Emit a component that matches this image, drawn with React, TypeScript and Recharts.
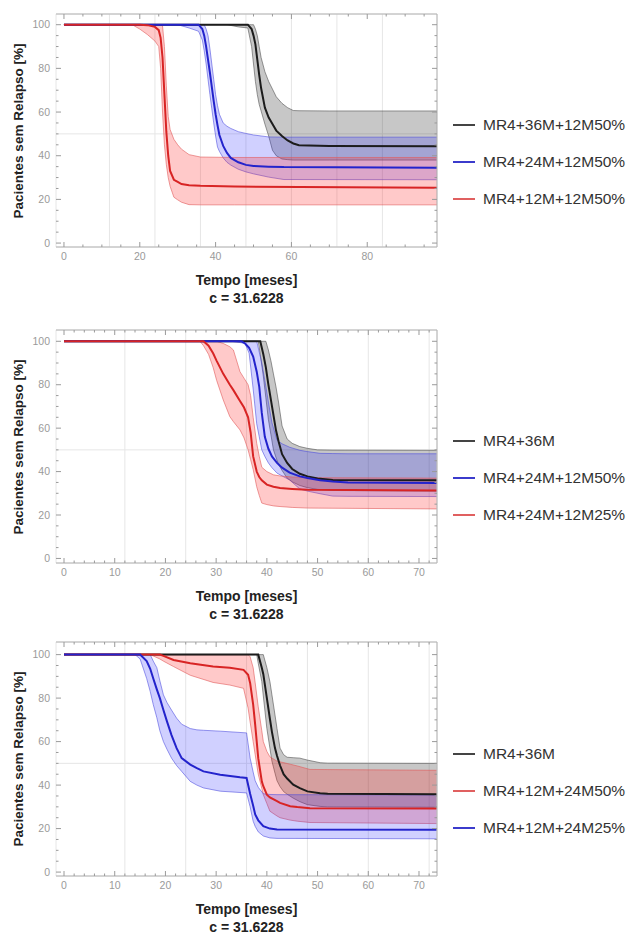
import { ComposedChart, Area, Line, XAxis, YAxis, CartesianGrid } from 'recharts'

const FONT = '"Liberation Sans", Arial, Helvetica, sans-serif'

// ---- panel 1 (tempo 0..98) ----
const p1RedT = [0, 18, 20, 22, 24, 25, 25.5, 26, 26.5, 27, 27.5, 28, 29, 30, 31, 33, 36, 45, 98.5]
const p1RedMid = [100, 100, 100, 99.8, 99, 97.5, 94, 85, 68, 51, 40, 33, 29, 28, 27, 26.5, 26.2, 25.9, 25.3]
const p1RedHi = [100, 100, 100, 100, 100, 100, 100, 99.5, 90, 72, 58, 52, 47.5, 45, 43, 40.5, 39.4, 39.2, 39.2]
const p1RedLo = [100, 100, 98, 95.5, 92.5, 90, 80, 60, 45, 36, 30, 26, 21, 19.8, 18.7, 17.6, 17.5, 17.5, 17.5]

const p1BlueT = [0, 30, 33, 35.5, 36.5, 37, 37.5, 38, 38.5, 39, 39.5, 40, 40.5, 41, 42, 43, 44, 46, 48, 50, 54, 58, 98.5]
const p1BlueMid = [100, 100, 100, 100, 98, 95, 90, 84, 78, 71.5, 65, 59, 54, 49.5, 44.5, 41.3, 39, 37, 35.8, 35.3, 35, 34.8, 34.5]
const p1BlueHi = [100, 100, 100, 100, 100, 100, 98, 95, 89, 82, 75, 68, 63, 59, 55, 53.5, 52.5, 51, 50.2, 49.5, 48.6, 48.5, 48.5]
const p1BlueLo = [100, 100, 98.5, 97, 93, 88, 82, 75, 68, 61.5, 55, 49, 44, 42, 39, 37, 35.7, 33.8, 32.6, 31.7, 30.2, 29.1, 29]

const p1BlackT = [0, 43, 46, 48.5, 49.5, 50, 50.5, 51, 51.5, 52, 53, 54, 55, 56, 57.5, 59, 60.5, 62, 70, 98.5]
const p1BlackMid = [100, 100, 100, 100, 98, 95, 91, 84, 77, 71, 62, 57.5, 54.5, 51.5, 49, 47, 45.6, 44.8, 44.5, 44.3]
const p1BlackHi = [100, 100, 100, 100, 100, 100, 98, 95, 90, 85, 78.5, 74, 70.5, 67, 64, 62, 60.7, 60.6, 60.5, 60.5]
const p1BlackLo = [100, 100, 99, 98.5, 90, 82, 74, 68, 63.5, 60.5, 54.5, 49, 42.5, 40, 38.5, 38.2, 38, 38, 38, 38]

// ---- panel 2 (tempo 0..73) ----
const p2BlackT = [0, 38.3, 38.7, 39.3, 39.8, 40.3, 40.8, 41.3, 41.8, 42.3, 43, 44, 45, 46.5, 48, 50, 53, 73.5]
const p2BlackMid = [100, 100, 100, 94, 88, 80, 73, 66, 59, 54, 48, 44, 41.2, 39, 37.8, 36.8, 36.1, 36]
const p2BlackHi = [100, 100, 100, 100, 100, 96, 91, 85, 79, 72, 61, 55, 53, 51.5, 50.7, 50, 49.9, 49.8]
const p2BlackLo = [100, 100, 94, 84, 74, 64, 57, 50, 46.5, 43.3, 40.5, 37, 35.3, 33.6, 32.6, 31.8, 31.3, 31]

const p2BlueT = [0, 33, 35, 35.7, 36.5, 37.3, 38, 38.5, 39, 39.6, 40.3, 41, 42, 43, 44.5, 46.5, 48, 50.5, 53, 56, 73.5]
const p2BlueMid = [100, 100, 100, 99, 97, 93, 86, 79, 67, 56, 50.5, 47, 44, 41.8, 39.5, 37.8, 37, 36, 35.4, 35, 34.7]
const p2BlueHi = [100, 100, 100, 100, 100, 100, 100, 95, 90, 82, 72, 62.5, 54.5, 52.8, 51.2, 49.8, 49.2, 48.4, 48.3, 48.2, 48.2]
const p2BlueLo = [100, 100, 99.3, 99, 94.5, 78, 62, 56, 50, 47, 44, 41.8, 39.3, 38, 36.1, 32, 31, 29.8, 28.7, 28.6, 28.5]

const p2RedT = [0, 26.8, 27.5, 28.5, 29.4, 30.1, 31.4, 32.7, 33.4, 34.7, 35.5, 36.3, 36.8, 37.3, 38, 38.5, 39, 40, 41.3, 42.6, 45, 48, 73.5]
const p2RedMid = [100, 100, 100, 98, 94.5, 91, 85, 80, 77.5, 72.5, 69.5, 65, 58, 47, 40, 37.5, 36, 34, 33, 32.4, 32, 31.6, 31.3]
const p2RedHi = [100, 100, 100, 100, 100, 100, 99, 97.5, 96, 86, 83, 80, 75, 65, 53, 47, 42, 40, 38.5, 38, 37.5, 37.2, 37]
const p2RedLo = [100, 100, 98, 94, 88, 82, 73, 65.3, 63, 59.2, 55.5, 50, 45.5, 41, 33, 29, 25.5, 24.8, 24.2, 23.9, 23.5, 23.2, 22.8]

// ---- panel 3 (tempo 0..73) ----
const p3BlackT = [0, 38, 38.3, 39, 39.3, 40, 40.6, 41, 41.6, 42, 42.6, 43.3, 44, 45.2, 46.5, 48, 50.5, 52, 73.5]
const p3BlackMid = [100, 100, 100, 94, 91, 80, 70.5, 64.5, 57, 53.5, 49, 45, 43, 40.2, 38.6, 37.1, 36.2, 36, 35.8]
const p3BlackHi = [100, 100, 100, 100, 100, 94, 87.6, 81.5, 72.3, 66, 57, 54, 52.8, 52.6, 52.4, 51.5, 50.3, 50.1, 50]
const p3BlackLo = [100, 100, 96, 87.6, 81, 66, 57, 51, 45.5, 42, 39.3, 37, 35.8, 34, 32.4, 31, 30.2, 30, 29.8]

const p3RedT = [0, 17, 18.9, 19.6, 21.6, 24.9, 29.4, 32.7, 35.4, 36.3, 36.7, 37.3, 37.7, 38.3, 39, 39.3, 40, 40.6, 42, 42.6, 44.6, 46, 48.5, 73.5]
const p3RedMid = [100, 100, 100, 99.4, 97.5, 96, 94.5, 94, 93, 90.7, 87, 77, 67.7, 52.4, 41.7, 39.5, 35.6, 34.3, 32.6, 31.8, 30.3, 29.9, 29.4, 29.2]
const p3RedHi = [100, 100, 100, 100, 100, 100, 100, 100, 100, 100, 99, 94, 87, 76, 65, 60, 55.5, 53, 51, 50.7, 49.6, 48.8, 47.2, 46.8]
const p3RedLo = [100, 100, 98, 97, 94.5, 90.5, 87.2, 86, 84.5, 75.4, 69, 60, 54, 45, 38.5, 35.6, 31.5, 28, 25.8, 25, 23.9, 23.4, 22.8, 22.3]

const p3BlueT = [0, 14, 15, 16.3, 17, 17.6, 18.3, 18.9, 19.6, 20.3, 21.2, 22.2, 23.2, 24.9, 26.2, 27.5, 30.8, 34.7, 36, 36.7, 37.3, 37.7, 38.3, 39.3, 40.6, 42, 73.5]
const p3BlueMid = [100, 100, 100, 97, 93.5, 89, 84, 80, 74.5, 69.3, 63, 57, 52.4, 49.4, 47.8, 46.3, 44.8, 43.6, 43.3, 36, 30.5, 26.5, 23.8, 21.1, 20, 19.6, 19.5]
const p3BlueHi = [100, 100, 100, 100, 100, 97, 94, 88, 81.5, 78, 74.5, 70.8, 68, 66, 65.4, 65.2, 64.8, 64.2, 64, 52.4, 46, 42, 39, 36, 35.7, 35.6, 35.5]
const p3BlueLo = [100, 100, 98, 89, 83, 77, 71, 65, 60, 56.5, 52.4, 49, 46.3, 41.7, 40, 38.7, 37.2, 36.6, 36.4, 30, 23.4, 21, 18.5, 16.6, 15.7, 15.5, 15.3]

// ---- ticks / grid ----
const yMajor = [0, 20, 40, 60, 80, 100]
const yMinor = [0, 5, 10, 15, 20, 25, 30, 35, 40, 45, 50, 55, 60, 65, 70, 75, 80, 85, 90, 95, 100]
const p1XMajor = [0, 20, 40, 60, 80]
const p1XMinor = [0, 5, 10, 15, 20, 25, 30, 35, 40, 45, 50, 55, 60, 65, 70, 75, 80, 85, 90, 95]
const p1GridX = [12, 24, 36, 48, 60, 72, 84]
const p23XMajor = [0, 10, 20, 30, 40, 50, 60, 70]
const p23XMinor = [0, 2, 4, 6, 8, 10, 12, 14, 16, 18, 20, 22, 24, 26, 28, 30, 32, 34, 36, 38, 40, 42, 44, 46, 48, 50, 52, 54, 56, 58, 60, 62, 64, 66, 68, 70, 72]
const p23GridX = [12, 24, 36, 48, 60, 72]
const gridY = [50]

const COLORS = {
  black: { line: '#1c1c1c', fill: 'rgba(0,0,0,0.22)', edge: 'rgba(70,70,70,0.55)', legend: '#444' },
  blue: { line: '#2323cc', fill: 'rgba(40,40,255,0.22)', edge: 'rgba(70,70,220,0.55)', legend: '#3b3bcc' },
  red: { line: '#d82424', fill: 'rgba(255,40,40,0.25)', edge: 'rgba(225,90,90,0.6)', legend: '#e06060' },
}

type Tone = keyof typeof COLORS
interface Series {
  name: string
  tone: Tone
  t: number[]
  mid: number[]
  lo: number[]
  hi: number[]
}

const toRows = (s: Series) =>
  s.t.map((t, i) => ({ t, mid: s.mid[i], lo: s.lo[i], hi: s.hi[i] }))

const panel1: Series[] = [
  { name: 'MR4+36M+12M50%', tone: 'black', t: p1BlackT, mid: p1BlackMid, lo: p1BlackLo, hi: p1BlackHi },
  { name: 'MR4+24M+12M50%', tone: 'blue', t: p1BlueT, mid: p1BlueMid, lo: p1BlueLo, hi: p1BlueHi },
  { name: 'MR4+12M+12M50%', tone: 'red', t: p1RedT, mid: p1RedMid, lo: p1RedLo, hi: p1RedHi },
]
const panel2: Series[] = [
  { name: 'MR4+36M', tone: 'black', t: p2BlackT, mid: p2BlackMid, lo: p2BlackLo, hi: p2BlackHi },
  { name: 'MR4+24M+12M50%', tone: 'blue', t: p2BlueT, mid: p2BlueMid, lo: p2BlueLo, hi: p2BlueHi },
  { name: 'MR4+24M+12M25%', tone: 'red', t: p2RedT, mid: p2RedMid, lo: p2RedLo, hi: p2RedHi },
]
const panel3: Series[] = [
  { name: 'MR4+36M', tone: 'black', t: p3BlackT, mid: p3BlackMid, lo: p3BlackLo, hi: p3BlackHi },
  { name: 'MR4+12M+24M50%', tone: 'red', t: p3RedT, mid: p3RedMid, lo: p3RedLo, hi: p3RedHi },
  { name: 'MR4+12M+24M25%', tone: 'blue', t: p3BlueT, mid: p3BlueMid, lo: p3BlueLo, hi: p3BlueHi },
]

const TICK = '#9a9a9a'
const FRAME = '#b4b4b4'

const PLOT_LEFT = 56
const PLOT_RIGHT = 437
const PLOT_TOP = 14
const CHART_W = 628
const CHART_H = 310
const LEFT_AXIS_W = 40
const BOTTOM_AXIS_H = 30

// inward frame ticks; labels only on the major ones (bottom / left)
function makeTick(side: 'bottom' | 'top' | 'left' | 'right', majors: number[]) {
  return (props: any) => {
    const { payload } = props
    const v = payload?.value
    const major = majors.includes(v)
    const len = major ? 5 : 2.5
    let x = props.x
    let y = props.y
    if (side === 'left') x = PLOT_LEFT
    if (side === 'right') x = PLOT_RIGHT
    let x2 = x
    let y2 = y
    if (side === 'bottom') y2 = y - len
    if (side === 'top') y2 = y + len
    if (side === 'left') x2 = x + len
    if (side === 'right') x2 = x - len
    return (
      <g>
        <line x1={x} y1={y} x2={x2} y2={y2} stroke={TICK} strokeWidth={1} />
        {major && side === 'bottom' && (
          <text x={x} y={y + 6} dy="0.71em" textAnchor="middle" fontSize={10.5} fill={TICK} fontFamily={FONT}>
            {v}
          </text>
        )}
        {major && side === 'left' && (
          <text x={x - 6} y={y} dy="0.355em" textAnchor="end" fontSize={10.5} fill={TICK} fontFamily={FONT}>
            {v}
          </text>
        )}
      </g>
    )
  }
}

interface PanelProps {
  top: number
  series: Series[]
  xDomain: [number, number]
  yDomain: [number, number]
  plotHeight: number
  xMajor: number[]
  xMinor: number[]
  gridX: number[]
}

function Panel({ top, series, xDomain, yDomain, plotHeight, xMajor, xMinor, gridX }: PanelProps) {
  const plotW = PLOT_RIGHT - PLOT_LEFT
  const centerY = PLOT_TOP + plotHeight / 2
  const bottom = PLOT_TOP + plotHeight
  return (
    <div style={{ position: 'absolute', left: 0, top, width: CHART_W, height: CHART_H }}>
      <ComposedChart
        width={CHART_W}
        height={CHART_H}
        margin={{
          top: PLOT_TOP - 1,
          left: PLOT_LEFT - LEFT_AXIS_W,
          right: CHART_W - PLOT_RIGHT - 1,
          bottom: CHART_H - bottom - BOTTOM_AXIS_H,
        }}
      >
        <XAxis xAxisId="g" type="number" dataKey="t" domain={xDomain} ticks={gridX} allowDataOverflow hide />
        <YAxis yAxisId="g" type="number" domain={yDomain} ticks={gridY} allowDataOverflow hide />
        <CartesianGrid xAxisId="g" yAxisId="g" stroke="#e6e6e6" />
        <XAxis
          xAxisId="b"
          type="number"
          dataKey="t"
          orientation="bottom"
          domain={xDomain}
          ticks={xMinor}
          interval={0}
          allowDataOverflow
          height={BOTTOM_AXIS_H}
          tickSize={0}
          tickMargin={0}
          tickLine={false}
          axisLine={{ stroke: FRAME }}
          tick={makeTick('bottom', xMajor)}
        />
        <XAxis
          xAxisId="t"
          type="number"
          dataKey="t"
          orientation="top"
          domain={xDomain}
          ticks={xMinor}
          interval={0}
          allowDataOverflow
          height={1}
          tickSize={0}
          tickMargin={0}
          tickLine={false}
          axisLine={{ stroke: FRAME }}
          tick={makeTick('top', xMajor)}
        />
        <YAxis
          yAxisId="l"
          type="number"
          orientation="left"
          domain={yDomain}
          ticks={yMinor}
          interval={0}
          allowDataOverflow
          width={LEFT_AXIS_W}
          tickSize={0}
          tickMargin={0}
          tickLine={false}
          axisLine={{ stroke: FRAME }}
          tick={makeTick('left', yMajor)}
        />
        <YAxis
          yAxisId="r"
          type="number"
          orientation="right"
          domain={yDomain}
          ticks={yMinor}
          interval={0}
          allowDataOverflow
          width={1}
          tickSize={0}
          tickMargin={0}
          tickLine={false}
          axisLine={{ stroke: FRAME }}
          tick={makeTick('right', yMajor)}
        />
        {series.map((s) => (
          <Area
            key={`band-${s.name}`}
            xAxisId="b"
            yAxisId="l"
            data={toRows(s)}
            dataKey={(d: any) => [d.lo, d.hi]}
            type="linear"
            stroke={COLORS[s.tone].edge}
            strokeWidth={1}
            fill={COLORS[s.tone].fill}
            fillOpacity={1}
            isAnimationActive={false}
            dot={false}
            activeDot={false}
          />
        ))}
        {series.map((s) => (
          <Line
            key={`line-${s.name}`}
            xAxisId="b"
            yAxisId="l"
            data={toRows(s)}
            dataKey="mid"
            type="linear"
            stroke={COLORS[s.tone].line}
            strokeWidth={2}
            dot={false}
            activeDot={false}
            isAnimationActive={false}
          />
        ))}
      </ComposedChart>

      <div
        style={{
          position: 'absolute',
          left: 17.5,
          top: centerY,
          transform: 'translate(-50%, -50%) rotate(-90deg)',
          whiteSpace: 'nowrap',
          fontFamily: FONT,
          fontWeight: 700,
          fontSize: 13.5,
          color: '#222',
        }}
      >
        Pacientes sem Relapso [%]
      </div>
      <div
        style={{
          position: 'absolute',
          left: PLOT_LEFT,
          width: plotW,
          top: bottom + 24,
          textAlign: 'center',
          fontFamily: FONT,
          fontWeight: 700,
          fontSize: 14,
          lineHeight: '18px',
          color: '#222',
        }}
      >
        <div>Tempo [meses]</div>
        <div>c = 31.6228</div>
      </div>

      {series.map((s, i) => (
        <div
          key={`leg-${s.name}`}
          style={{
            position: 'absolute',
            left: 453,
            top: centerY + 31.5 + (i - 1) * 37 - 10,
            height: 20,
            display: 'flex',
            alignItems: 'center',
            fontFamily: FONT,
            fontSize: 15.5,
            color: '#333',
            whiteSpace: 'nowrap',
          }}
        >
          <span style={{ display: 'inline-block', width: 22, height: 2, background: COLORS[s.tone].legend, marginRight: 8 }} />
          {s.name}
        </div>
      ))}
    </div>
  )
}

export default function App() {
  return (
    <div style={{ position: 'absolute', left: 0, top: 0, width: 628, height: 935, background: '#fff', overflow: 'hidden' }}>
      <Panel top={0} series={panel1} xDomain={[-2.1, 98.4]} yDomain={[-1.8, 104.9]} plotHeight={233} xMajor={p1XMajor} xMinor={p1XMinor} gridX={p1GridX} />
      <Panel top={316} series={panel2} xDomain={[-1.58, 73.55]} yDomain={[-2.1, 105.2]} plotHeight={233} xMajor={p23XMajor} xMinor={p23XMinor} gridX={p23GridX} />
      <Panel top={628} series={panel3} xDomain={[-1.58, 73.55]} yDomain={[-1.8, 105.8]} plotHeight={234} xMajor={p23XMajor} xMinor={p23XMinor} gridX={p23GridX} />
    </div>
  )
}
